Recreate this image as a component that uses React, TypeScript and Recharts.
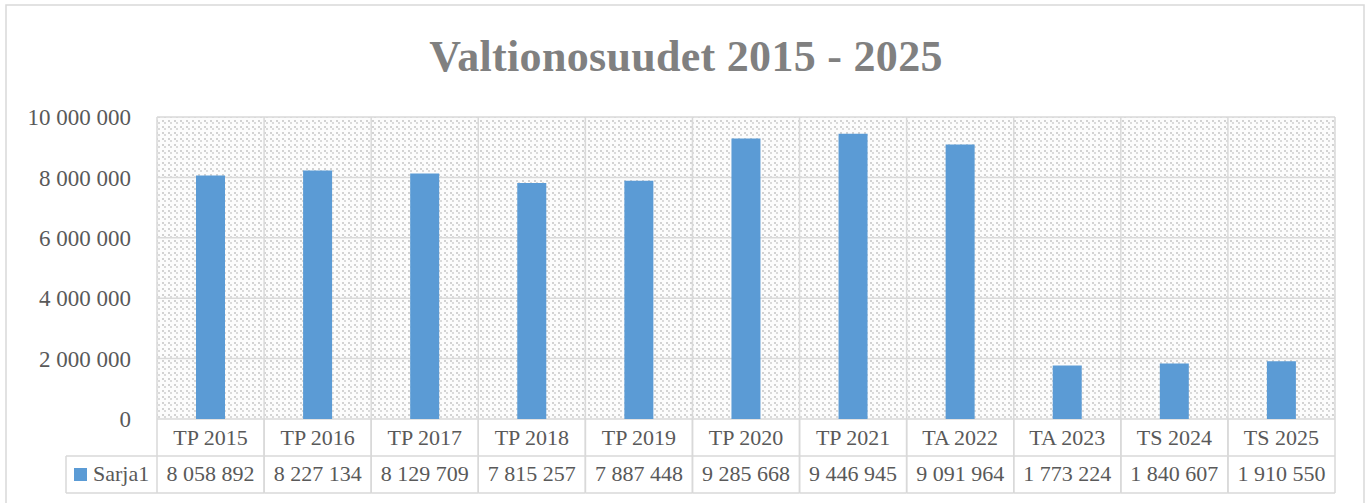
import React from "react";
import { BarChart, Bar, XAxis, YAxis, CartesianGrid } from "recharts";

const categories = ["TP 2015", "TP 2016", "TP 2017", "TP 2018", "TP 2019", "TP 2020", "TP 2021", "TA 2022", "TA 2023", "TS 2024", "TS 2025"];
const values = [8058892, 8227134, 8129709, 7815257, 7887448, 9285668, 9446945, 9091964, 1773224, 1840607, 1910550];
const yTicks = [0, 2000000, 4000000, 6000000, 8000000, 10000000];
const seriesName = "Sarja1";
const title = "Valtionosuudet 2015 - 2025";

const data = categories.map((c, i) => ({ category: c, value: values[i] }));

const W = 1368;
const H = 503;
const PLOT_LEFT = 157;
const PLOT_RIGHT = 1335;
const PLOT_TOP = 117;
const PLOT_BOTTOM = 419;
const ROW = 37;
const Y_AXIS_W = 140;
const PLOT_W = PLOT_RIGHT - PLOT_LEFT;

const FONT = "'Liberation Serif', 'Times New Roman', serif";
const TEXT = "#595959";
const GRID = "#d9d9d9";
const BLUE = "#5B9BD5";

const fmt = (n: number) => String(n).replace(/\B(?=(\d{3})+(?!\d))/g, " ");

const TableTick = (props: any) => {
  const { x, y, payload, index } = props;
  const i = typeof payload?.index === "number" ? payload.index : index;
  const bw = PLOT_W / categories.length;
  const l = x - bw / 2;
  const r = x + bw / 2;
  const ls = { stroke: GRID, strokeWidth: 1.5 };
  return (
    <g>
      <line x1={l} x2={l} y1={y} y2={y + 2 * ROW} {...ls} />
      <line x1={r} x2={r} y1={y} y2={y + 2 * ROW} {...ls} />
      <line x1={l} x2={r} y1={y + ROW} y2={y + ROW} {...ls} />
      <line x1={l} x2={r} y1={y + 2 * ROW} y2={y + 2 * ROW} {...ls} />
      <text x={x} y={y + 26} textAnchor="middle" fill={TEXT} fontSize={22} fontFamily={FONT}>
        {payload.value}
      </text>
      <text x={x} y={y + 62} textAnchor="middle" fill={TEXT} fontSize={22} fontFamily={FONT}>
        {fmt(values[i])}
      </text>
      {i === 0 && (
        <g>
          <line x1={66} x2={l} y1={y + ROW} y2={y + ROW} {...ls} />
          <line x1={66} x2={l} y1={y + 2 * ROW} y2={y + 2 * ROW} {...ls} />
          <line x1={66} x2={66} y1={y + ROW} y2={y + 2 * ROW} {...ls} />
          <rect x={74} y={y + 49} width={13} height={13} fill={BLUE} />
          <text x={93} y={y + 62} fill={TEXT} fontSize={22} fontFamily={FONT}>
            {seriesName}
          </text>
        </g>
      )}
    </g>
  );
};

export default function App() {
  return (
    <div style={{ position: "absolute", left: 0, top: 0, width: W, height: H, overflow: "hidden", background: "#fff" }}>
      <svg width={W} height={H} style={{ position: "absolute", left: 0, top: 0 }}>
        <rect x={6} y={5} width={1358} height={510} fill="#fff" stroke={GRID} strokeWidth={1.5} />
        <text x={686} y={71} textAnchor="middle" fill="#808080" fontSize={44} fontWeight="bold" fontFamily={FONT} letterSpacing={0.3}>
          {title}
        </text>
      </svg>
      <div style={{ position: "absolute", left: 0, top: 0 }}>
        <BarChart
          width={W}
          height={H}
          data={data}
          margin={{ top: PLOT_TOP, right: W - PLOT_RIGHT, bottom: H - PLOT_BOTTOM - 2 * ROW, left: PLOT_LEFT - Y_AXIS_W }}
          barSize={29}
        >
          <defs>
            <pattern id="hatch" patternUnits="userSpaceOnUse" width={6} height={6}>
              <rect x={0} y={0} width={6} height={6} fill="#fcfcfc" />
              <rect x={0} y={0} width={2} height={2} fill="#d2d2d2" />
              <rect x={2} y={2} width={2} height={2} fill="#dadada" />
            </pattern>
          </defs>
          <CartesianGrid
            fill="url(#hatch)"
            stroke={GRID}
            strokeWidth={1.5}
            verticalCoordinatesGenerator={({ offset }: any) =>
              categories.concat([""]).map((_, i) => offset.left + (i * offset.width) / categories.length)
            }
          />
          <XAxis
            dataKey="category"
            interval={0}
            axisLine={false}
            tickLine={false}
            tickSize={0}
            tickMargin={0}
            height={2 * ROW}
            tick={<TableTick />}
          />
          <YAxis
            width={Y_AXIS_W}
            domain={[0, 10000000]}
            ticks={yTicks}
            axisLine={false}
            tickLine={false}
            tickSize={0}
            tickMargin={26}
            tickFormatter={(v: number) => fmt(v)}
            tick={{ fill: TEXT, fontSize: 23, fontFamily: FONT }}
          />
          <Bar dataKey="value" fill={BLUE} isAnimationActive={false} />
        </BarChart>
      </div>
    </div>
  );
}
